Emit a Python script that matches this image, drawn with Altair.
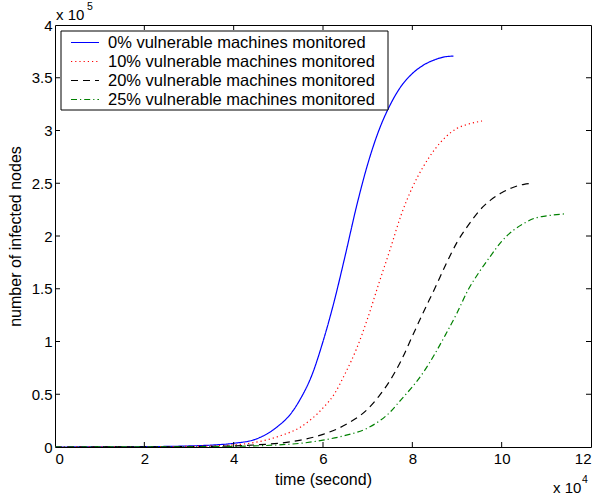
import altair as alt
import pandas as pd

# ---- data (time in units of 1e4 s, infected nodes in units of 1e5) ----
series_names = [
    "0% vulnerable machines monitored",
    "10% vulnerable machines monitored",
    "20% vulnerable machines monitored",
    "25% vulnerable machines monitored",
]

t_0 = [0, 1, 2, 3, 3.5, 4, 4.5, 5, 5.25, 5.5, 5.75, 6, 6.25, 6.5, 6.75, 7, 7.25, 7.5, 7.75, 8,
       8.25, 8.5, 8.75, 8.92]
n_0 = [0, 0.001, 0.003, 0.01, 0.018, 0.035, 0.075, 0.2, 0.3, 0.46, 0.68, 1.0, 1.38, 1.82, 2.28, 2.68,
       3.0, 3.24, 3.42, 3.54, 3.62, 3.67, 3.70, 3.705]

t_10 = [0, 2, 3, 4, 4.5, 5, 5.5, 6, 6.25, 6.5, 6.75, 7, 7.25, 7.5, 7.75, 8, 8.25, 8.5, 8.75, 9,
        9.25, 9.56]
n_10 = [0, 0.002, 0.006, 0.02, 0.045, 0.1, 0.19, 0.37, 0.5, 0.7, 0.93, 1.22, 1.55, 1.87, 2.2, 2.46,
        2.66, 2.82, 2.94, 3.02, 3.06, 3.09]

t_20 = [0, 2, 3, 4, 4.5, 5, 5.5, 6, 6.5, 7, 7.25, 7.5, 7.75, 8, 8.25, 8.5, 8.75, 9, 9.25, 9.5,
        9.75, 10, 10.25, 10.5, 10.67]
n_20 = [0, 0.001, 0.004, 0.01, 0.02, 0.035, 0.065, 0.12, 0.21, 0.36, 0.48, 0.63, 0.82, 1.05, 1.28, 1.5,
        1.73, 1.94, 2.1, 2.24, 2.34, 2.41, 2.46, 2.49, 2.50]

t_25 = [0, 3, 4, 5, 5.5, 6, 6.5, 7, 7.5, 7.75, 8, 8.25, 8.5, 8.75, 9, 9.25, 9.5, 9.75, 10, 10.25,
        10.5, 10.75, 11, 11.42]
n_25 = [0, 0.002, 0.006, 0.02, 0.035, 0.065, 0.11, 0.18, 0.33, 0.45, 0.57, 0.71, 0.88, 1.07, 1.27, 1.49,
        1.66, 1.81, 1.95, 2.05, 2.12, 2.17, 2.19, 2.21]

x_ticks = [0, 2, 4, 6, 8, 10, 12]
y_ticks = [0, 0.5, 1, 1.5, 2, 2.5, 3, 3.5, 4]

colors = ["#0000ff", "#ff0000", "#000000", "#008000"]
dashes = [[1, 0], [1.2, 3], [7, 5], [6, 3, 1.2, 3]]

# ---- build table ----
rows = []
for name, ts, ns in zip(series_names, [t_0, t_10, t_20, t_25], [n_0, n_10, n_20, n_25]):
    for t, n in zip(ts, ns):
        rows.append({"series": name, "t": t, "n": n})
df = pd.DataFrame(rows)
legend_df = pd.DataFrame({"series": series_names})

W, H = 536, 422
FONT = "Liberation Sans"

xscale = alt.Scale(domain=[0, 12], nice=False, zero=False)
yscale = alt.Scale(domain=[0, 4], nice=False, zero=False)
cscale = alt.Scale(domain=series_names, range=colors)
dscale = alt.Scale(domain=series_names, range=dashes)

xaxis = alt.Axis(values=x_ticks, ticks=False, domain=False, grid=False, labelFontSize=15,
                 labelFont=FONT, labelColor="black", labelPadding=4, titleFontSize=16,
                 titleFont=FONT, titleFontWeight="normal", titleColor="black", titlePadding=5,
                 format="~g")
yaxis = alt.Axis(values=y_ticks, ticks=False, domain=False, grid=False, labelFontSize=15,
                 labelFont=FONT, labelColor="black", labelPadding=3, titleFontSize=16,
                 titleFont=FONT, titleFontWeight="normal", titleColor="black", titlePadding=8,
                 format="~g")

XT = "time (second)"
YT = "number of infected nodes"

color_enc = alt.Color("series:N", scale=cscale, legend=None)
dash_enc = alt.StrokeDash("series:N", scale=dscale, legend=None)

lines = alt.Chart(df).mark_line(interpolate="monotone", strokeWidth=1.2, clip=True).encode(
    x=alt.X("t:Q", scale=xscale, axis=xaxis, title=XT),
    y=alt.Y("n:Q", scale=yscale, axis=yaxis, title=YT),
    color=color_enc,
    strokeDash=dash_enc,
    order=alt.Order("t:Q"),
)

xt_df = pd.DataFrame({"t": x_ticks[1:-1]})
yt_df = pd.DataFrame({"n": y_ticks[1:-1]})

xenc = alt.X("t:Q", scale=xscale, axis=xaxis, title=XT)
yenc = alt.Y("n:Q", scale=yscale, axis=yaxis, title=YT)

tick_bottom = alt.Chart(xt_df).mark_rule(color="black", strokeWidth=1).encode(
    x=xenc, y=alt.value(H), y2=alt.value(H - 5))
tick_top = alt.Chart(xt_df).mark_rule(color="black", strokeWidth=1).encode(
    x=xenc, y=alt.value(0), y2=alt.value(5))
tick_left = alt.Chart(yt_df).mark_rule(color="black", strokeWidth=1).encode(
    y=yenc, x=alt.value(0), x2=alt.value(5))
tick_right = alt.Chart(yt_df).mark_rule(color="black", strokeWidth=1).encode(
    y=yenc, x=alt.value(W), x2=alt.value(W - 5))

# ---- legend box (drawn inside the plot, MATLAB style) ----
one = pd.DataFrame({"k": [0]})
legend_box = alt.Chart(one).mark_rect(fill="white", stroke="black", strokeWidth=1).encode(
    x=alt.value(6), x2=alt.value(333), y=alt.value(6), y2=alt.value(85))

legend_layers = []
for i, name in enumerate(series_names):
    ry = 17.5 + 19 * i
    base = alt.Chart(legend_df).transform_filter(alt.datum.series == name)
    legend_layers.append(base.mark_rule(strokeWidth=1.2).encode(
        x=alt.value(16), x2=alt.value(44), y=alt.value(ry),
        color=color_enc, strokeDash=dash_enc))
    legend_layers.append(base.mark_text(align="left", baseline="middle", fontSize=16.5,
                                        font=FONT, color="black").encode(
        x=alt.value(53), y=alt.value(ry + 0.5), text="series:N"))

exp_y_base = alt.Chart(one).mark_text(text="x 10", align="left", baseline="alphabetic",
                                      fontSize=15, font=FONT, color="black").encode(
    x=alt.value(1), y=alt.value(-5))
exp_y_sup = alt.Chart(one).mark_text(text="5", align="left", baseline="alphabetic",
                                     fontSize=10.5, font=FONT, color="black").encode(
    x=alt.value(32), y=alt.value(-15))
exp_x_base = alt.Chart(one).mark_text(text="x 10", align="left", baseline="alphabetic",
                                      fontSize=15, font=FONT, color="black").encode(
    x=alt.value(498), y=alt.value(468))
exp_x_sup = alt.Chart(one).mark_text(text="4", align="left", baseline="alphabetic",
                                     fontSize=10.5, font=FONT, color="black").encode(
    x=alt.value(527), y=alt.value(458))

chart = alt.layer(
    lines, tick_bottom, tick_top, tick_left, tick_right, legend_box, *legend_layers,
    exp_y_base, exp_y_sup, exp_x_base, exp_x_sup,
).properties(
    width=W, height=H,
    autosize=alt.AutoSizeParams(type="none"),
    padding={"left": 55, "top": 25, "right": 9, "bottom": 52},
    background="white",
).configure_view(
    stroke="black", strokeWidth=1,
)

chart.save("out.html", embed_options={"renderer": "svg", "actions": False})
